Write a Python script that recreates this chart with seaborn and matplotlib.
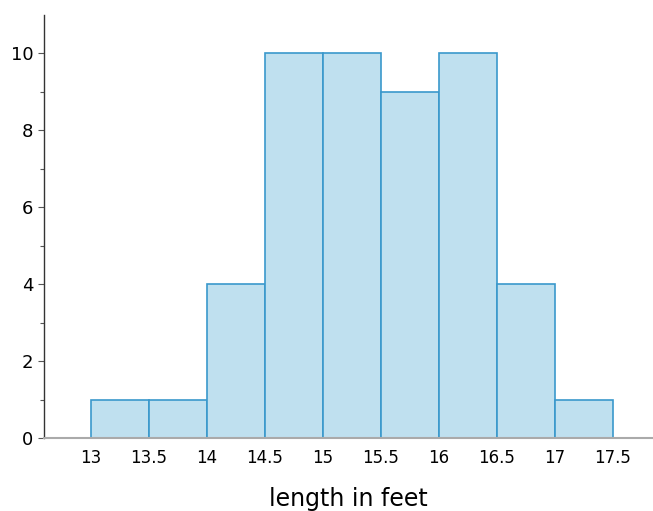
import matplotlib
matplotlib.use("Agg")
import matplotlib.pyplot as plt
import seaborn as sns
import numpy as np

# histogram data: bins of width 0.5 feet
bin_edges = [13, 13.5, 14, 14.5, 15, 15.5, 16, 16.5, 17, 17.5]
counts = [1, 1, 4, 10, 10, 9, 10, 4, 1]
tick_labels = ["13", "13.5", "14", "14.5", "15", "15.5", "16", "16.5", "17", "17.5"]

sns.set_style("white")
plt.rcParams['font.family'] = ['DejaVu Sans']
plt.rcParams['text.color'] = 'black'
plt.rcParams['axes.labelcolor'] = 'black'
plt.rcParams['xtick.labelcolor'] = 'black'
plt.rcParams['ytick.labelcolor'] = 'black'

fig = plt.figure(figsize=(6.53, 5.11), dpi=100)
ax = fig.add_axes([0.0674, 0.1429, 0.9326, 0.8277])

centers = [(a + b) / 2 for a, b in zip(bin_edges[:-1], bin_edges[1:])]
sns.histplot(x=centers, weights=counts, bins=bin_edges, ax=ax,
             color="#bfe0ef", edgecolor="#3a98cc", linewidth=1.2, alpha=1)

ax.set_xlim(12.595, 17.845)
ax.set_ylim(0, 11)
ax.set_xticks(bin_edges)
ax.set_xticklabels(tick_labels, fontsize=12)
ax.set_yticks([0, 2, 4, 6, 8, 10])
ax.set_yticks([1, 3, 5, 7, 9], minor=True)
ax.tick_params(axis='y', which='major', length=4, width=0.8, labelsize=13, color="#555555", direction='out', left=True)
ax.tick_params(axis='y', which='minor', length=3, width=0.8, color="#555555", direction='out', left=True)
ax.tick_params(axis='x', length=0, pad=8)
ax.set_xlabel("length in feet", fontsize=17, labelpad=14)
ax.set_ylabel("")

for s in ["top", "right"]:
    ax.spines[s].set_visible(False)
ax.spines["left"].set_color("#333333")
ax.spines["left"].set_linewidth(1)
ax.spines["bottom"].set_color("#aaaaaa")
ax.spines["bottom"].set_linewidth(1.5)

fig.savefig("out.png", dpi=100)
